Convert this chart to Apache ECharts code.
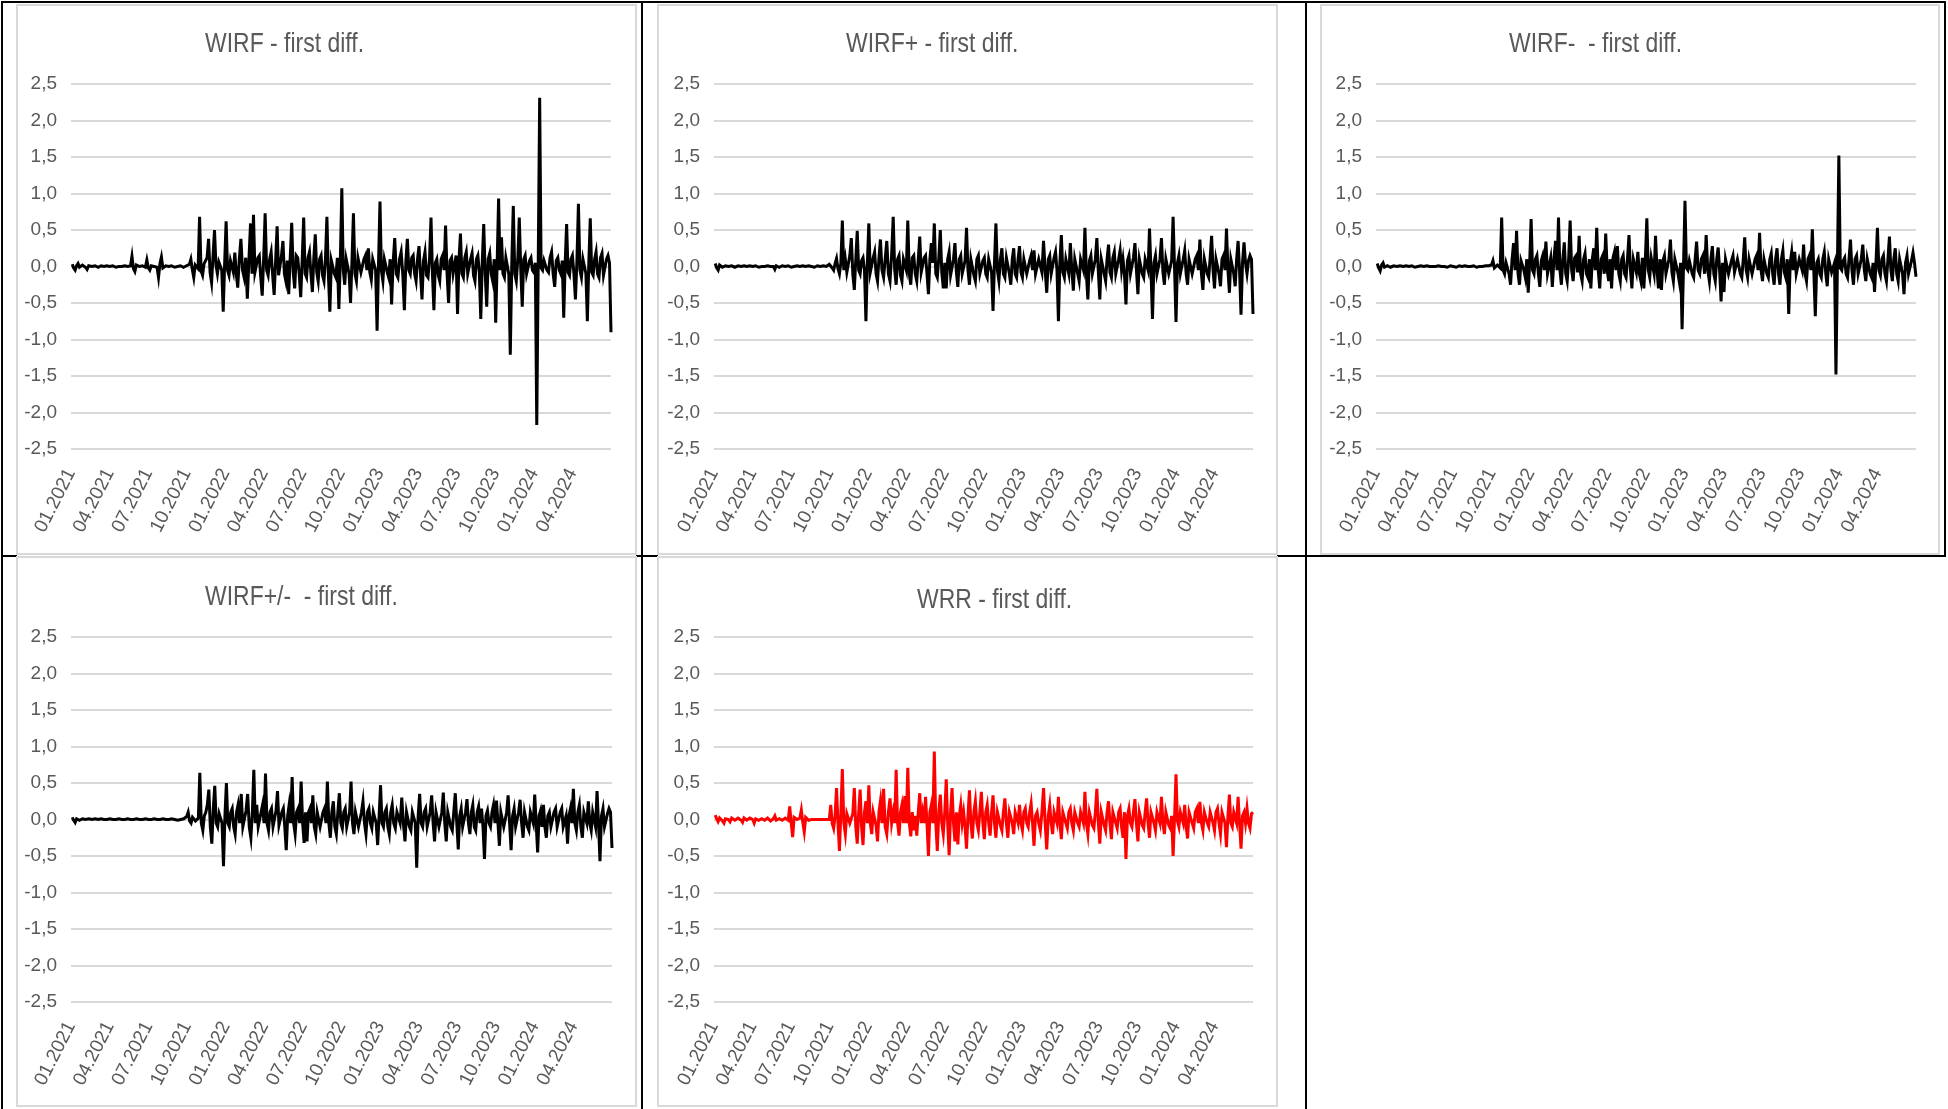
<!DOCTYPE html>
<html>
<head>
<meta charset="utf-8">
<title>First differences of WIRF indices and WRR</title>
<script src="https://cdn.jsdelivr.net/npm/echarts@6/dist/echarts.min.js"></script>
<style>
  html, body { margin: 0; padding: 0; background: #ffffff; }
  #chart { width: 1948px; height: 1109px; }
</style>
</head>
<body>
<div id="chart"></div>
<script>
// Twice-weekly observations (every 3.5 days), first one on 2021-01-04
const firstObs = Date.UTC(2021, 0, 4);
const stepDays = 3.5;

// Quarterly date labels on the horizontal axes
const quarterLabels = ['01.2021', '04.2021', '07.2021', '10.2021', '01.2022', '04.2022', '07.2022',
  '10.2022', '01.2023', '04.2023', '07.2023', '10.2023', '01.2024', '04.2024'];

const panelTitles = ['WIRF - first diff.', 'WIRF+ - first diff.', 'WIRF-  - first diff.',
  'WIRF+/-  - first diff.', 'WRR - first diff.'];

// First differences
const wirf = [
  0.03,-0.02,-0.05,0.01,0.04,-0.01,-0.03,0.02,0.02,-0.01,-0.04,0.01,0.03,0,-0.01,0.01,0.02,-0.01,-0.02,0.01,
  0.01,0,-0.01,0.01,0.01,0,0,0.01,0.01,-0.01,-0.01,0,0.01,0,0,0.01,0.01,0,-0.01,0.01,
  0.14,-0.03,-0.07,0.02,0.01,0,-0.01,0.01,0.01,-0.01,0.09,-0.02,-0.05,0.01,0.01,0,0,-0.01,-0.15,0.04,
  0.13,-0.02,-0.01,0.01,0.01,0,0,0.01,0.01,-0.01,-0.01,0,0,0.01,0.01,-0.01,-0.01,0.01,0.02,0.03,
  0.10,-0.04,-0.15,0.02,0.03,-0.03,0.68,-0.06,-0.12,0.04,0.05,0.12,0.38,-0.08,-0.22,0.15,0.50,0.02,-0.1,0.06,
  0.08,-0.05,-0.62,0.05,0.62,-0.05,-0.12,0.08,0.10,-0.08,0.19,-0.1,-0.29,0.1,0.38,-0.05,-0.15,0.12,-0.44,0.1,
  0.59,-0.1,0.71,-0.08,-0.1,0.12,0.15,-0.15,-0.40,0.1,0.73,-0.05,-0.12,0.1,0.2,-0.12,-0.39,0.08,0.55,-0.12,
  -0.1,0.15,0.35,-0.1,-0.2,0.08,-0.38,0.12,0.60,-0.08,-0.3,0.15,0.12,-0.1,-0.42,0.1,0.67,-0.1,-0.15,0.12,
  0.2,-0.1,-0.35,0.12,0.44,-0.08,-0.2,0.1,0.15,-0.12,-0.2,0.1,0.68,-0.1,-0.62,0.08,0.1,-0.1,-0.15,0.12,
  -0.58,0.1,1.07,-0.05,-0.25,0.1,0.12,-0.1,-0.5,0.08,0.73,-0.1,-0.2,0.12,0.1,-0.08,-0.1,0.1,0.15,-0.05,
  0.25,-0.08,-0.18,0.1,0.1,-0.05,-0.88,0.05,0.89,-0.06,-0.2,0.1,0.12,-0.08,-0.15,0.1,-0.52,0.05,0.39,-0.1,
  -0.15,0.1,0.2,-0.1,-0.6,0.08,0.38,-0.05,-0.1,0.12,0.15,-0.1,-0.2,0.1,0.28,-0.1,-0.45,0.08,0.2,-0.12,
  -0.15,0.1,0.67,-0.1,-0.6,0.05,0.1,-0.12,-0.2,0.1,0.15,-0.05,0.56,-0.1,-0.5,0.08,0.12,-0.1,-0.1,0.15,
  -0.65,0.1,0.45,-0.1,-0.15,0.12,0.2,-0.1,-0.12,0.1,0.18,-0.12,-0.2,0.1,0.15,-0.08,-0.72,0.05,0.58,-0.1,
  -0.55,0.1,0.18,-0.1,-0.2,0.1,-0.77,0.05,0.93,-0.05,0.4,-0.1,-0.15,0.12,0.1,-0.1,-1.21,0.05,0.83,-0.1,
  -0.2,0.1,0.67,-0.05,-0.55,0.1,0.15,-0.1,-0.1,0.08,0.12,-0.05,-0.08,0.05,-2.17,0.02,2.31,-0.02,-0.05,0.08,
  0.1,-0.05,-0.08,0.12,0.2,-0.1,-0.28,0.08,0.12,-0.05,-0.1,0.08,-0.7,0.05,0.58,-0.08,-0.12,0.1,0.15,-0.1,
  -0.45,0.08,0.86,-0.05,-0.15,0.1,0.1,-0.1,-0.75,0.05,0.66,-0.08,-0.12,0.1,0.2,-0.1,-0.15,0.12,0.18,-0.12,
  -0.12,0.1,0.15,0.05,-0.9
];

const wirfPlus = [
  0.04,-0.02,-0.05,0.02,0.03,-0.01,-0.03,0.01,0.02,0,-0.02,0.01,0.01,-0.01,-0.03,0.01,0.02,0,-0.01,0.01,
  0.01,0,-0.01,0.01,0.01,0,0,0.01,0.01,-0.01,-0.01,0,0.01,0,0,0.01,0.01,0,-0.01,0,
  -0.04,0.01,0.03,-0.01,-0.01,0.01,0.01,0,0,0.01,0.01,-0.01,-0.01,0,0,0.01,0.01,0,-0.01,0.01,
  0.01,0,0,0.01,-0.01,0,0.01,-0.01,0,0.01,0.01,0,-0.01,0.01,0.01,0,0.02,0.03,0.05,-0.02,
  -0.05,0.04,0.11,-0.03,-0.1,0.05,0.63,-0.05,0.1,-0.08,-0.1,0.15,0.39,-0.1,-0.32,0.1,0.49,-0.05,-0.1,0.08,
  0.12,-0.05,-0.75,0.05,0.59,-0.08,-0.1,0.12,0.2,-0.1,-0.2,0.12,0.37,-0.05,-0.15,0.1,0.35,-0.1,-0.2,0.15,
  0.68,-0.05,-0.25,0.1,0.15,-0.12,-0.2,0.1,0.1,-0.05,0.63,-0.1,-0.25,0.12,0.15,-0.1,-0.2,0.1,0.41,-0.08,
  -0.1,0.12,0.15,-0.1,-0.38,0.1,0.32,0.05,0.59,-0.1,-0.15,0.12,0.5,-0.08,-0.3,0.05,-0.3,0.1,0.2,-0.12,
  -0.1,0.1,0.32,-0.08,-0.28,0.1,0.15,-0.1,-0.1,0.08,0.53,-0.05,-0.25,0.1,0.1,-0.12,-0.2,0.1,0.15,-0.1,
  -0.1,0.08,0.12,-0.1,-0.15,0.1,0.1,-0.08,-0.61,0.05,0.59,-0.05,-0.2,0.1,0.25,-0.1,-0.15,0.12,0.1,-0.1,
  -0.25,0.1,0.25,-0.1,-0.15,0.1,0.28,-0.08,-0.15,0.1,0.12,-0.1,-0.1,0.08,0.15,-0.05,0.22,-0.1,-0.12,0.1,
  0.1,-0.08,0.35,-0.05,-0.36,0.1,0.15,-0.1,-0.1,0.12,0.2,-0.05,-0.75,0.05,0.43,-0.08,-0.15,0.1,0.1,-0.1,
  0.32,-0.05,-0.33,0.1,0.12,-0.1,-0.2,0.1,0.1,-0.05,0.53,-0.1,-0.45,0.08,0.15,-0.1,-0.1,0.1,0.39,-0.08,
  -0.45,0.1,0.12,-0.1,-0.2,0.1,0.3,-0.08,-0.15,0.12,0.2,-0.1,-0.12,0.1,0.22,-0.05,0.1,-0.1,-0.52,0.08,
  0.15,-0.1,-0.1,0.12,0.32,-0.05,-0.38,0.1,0.12,-0.1,-0.15,0.1,0.1,-0.05,0.52,-0.05,-0.72,0.05,0.15,-0.1,
  -0.1,0.1,0.39,-0.08,-0.25,0.1,0.1,-0.1,-0.12,0.08,0.68,-0.02,-0.76,0.05,0.15,-0.1,-0.1,0.1,0.22,-0.1,
  -0.25,0.1,0.12,-0.1,-0.1,0.1,0.15,-0.05,0.37,-0.1,-0.32,0.1,0.1,-0.1,-0.15,0.12,0.42,-0.05,-0.3,0.1,
  0.12,-0.1,-0.27,0.1,0.15,-0.05,0.52,-0.05,-0.36,0.1,0.1,-0.1,-0.27,0.1,0.35,-0.05,-0.66,0.05,0.33,0.05,
  -0.1,0.08,0.15,0.1,-0.65
];

const wirfMinus = [
  0.04,-0.02,-0.06,0.02,0.05,-0.01,-0.03,0.01,0.02,-0.01,-0.02,0.01,0.03,0,-0.01,0.01,0.01,0,-0.01,0.01,
  0.01,0,0,0.01,0.01,-0.01,-0.01,0,0,0.01,0.01,0,-0.01,0.01,0.02,0,-0.01,0,0.01,0,
  0,0.01,-0.01,0,0.01,0,0.02,-0.01,-0.01,0.01,0,0,0.01,-0.01,-0.01,0.01,0.01,0,0,0.01,
  -0.01,0,0.01,0,0,0.01,0.01,-0.01,-0.01,0,0.01,0,0,0.01,-0.01,0.01,0.03,0.02,0.08,-0.02,
  -0.03,0.02,0.02,-0.02,0.67,-0.05,-0.1,0.05,0.05,-0.1,-0.25,0.1,0.32,-0.05,0.49,-0.1,-0.25,0.08,0.1,-0.05,
  -0.15,0.1,-0.36,0.05,0.65,-0.05,-0.1,0.1,0.15,-0.1,-0.28,0.08,0.15,-0.05,0.34,-0.1,-0.1,0.12,-0.28,0.1,
  0.35,-0.05,0.67,-0.05,-0.25,0.1,0.33,-0.1,-0.2,0.1,0.63,-0.05,-0.2,0.12,0.15,-0.08,0.42,-0.1,-0.2,0.1,
  0.18,-0.1,-0.15,0.1,-0.3,0.1,0.25,-0.05,0.53,-0.05,-0.3,0.1,0.15,-0.1,0.45,-0.05,-0.2,0.1,-0.3,0.12,
  0.2,-0.05,0.28,-0.1,-0.2,0.1,0.15,-0.1,-0.15,0.12,0.43,-0.05,-0.3,0.1,0.1,-0.08,0.2,-0.1,-0.2,0.12,
  -0.3,0.1,0.66,-0.05,-0.15,0.12,0.1,-0.1,0.42,-0.05,-0.3,0.1,-0.32,0.08,0.15,-0.1,-0.1,0.1,0.37,-0.08,
  -0.2,0.1,0.1,-0.08,-0.2,0.05,-0.86,0.02,0.9,-0.02,-0.05,0.08,0.1,-0.1,-0.15,0.1,0.34,-0.05,-0.1,0.1,
  0.15,-0.1,0.43,-0.05,-0.2,0.1,0.28,-0.1,-0.2,0.1,0.26,-0.05,-0.48,0.05,-0.35,0.1,0.12,-0.1,-0.1,0.08,
  0.15,-0.08,-0.1,0.1,0.12,-0.1,-0.15,0.1,0.4,-0.05,-0.15,0.1,0.1,-0.1,-0.12,0.1,0.15,-0.05,0.46,-0.05,
  -0.2,0.1,0.1,-0.1,-0.15,0.1,0.18,-0.1,-0.25,0.1,0.25,-0.1,-0.25,0.1,0.22,-0.08,-0.15,0.1,-0.65,0.05,
  0.2,-0.05,0.2,-0.1,-0.12,0.1,0.1,-0.05,0.3,-0.1,-0.2,0.1,0.15,-0.05,0.51,-0.05,-0.68,0.05,0.1,-0.1,
  -0.15,0.1,0.2,-0.1,-0.27,0.1,0.1,-0.08,-0.1,0.05,-1.48,0.02,1.52,-0.02,-0.05,0.08,0.12,-0.1,-0.15,0.1,
  0.37,-0.05,-0.25,0.1,0.15,-0.1,-0.12,0.1,0.3,-0.05,-0.2,0.1,0.1,-0.1,-0.15,0.05,-0.35,0.05,0.53,-0.05,
  -0.12,0.1,0.15,-0.1,-0.2,0.1,0.41,-0.05,-0.2,0.1,0.25,-0.1,-0.2,0.1,0.1,-0.1,-0.38,0.05,0.15,-0.1,
  -0.1,0.08,0.19,0.05,-0.14
];

const wirfPlusMinus = [
  0.03,-0.01,-0.04,0.01,0.03,-0.01,-0.02,0.01,0.01,0,-0.01,0.01,0.01,0,-0.01,0.01,0.01,0,0,0.01,
  0.01,0,-0.01,0,0,0.01,0.01,0,-0.01,0,0,0.01,0.01,0,-0.01,0,0,0.01,0.01,0,
  -0.01,0,0,0.01,0.01,0,-0.01,0,0,0.01,0.01,0,-0.01,0,0,0.01,0.01,0,-0.01,0,
  0,0.01,0.01,0,-0.01,0,0,0.01,0.01,0,0,-0.01,-0.01,0,0.01,0.01,0.03,0.04,0.1,-0.02,
  -0.05,0.03,0.05,-0.02,-0.03,0.02,0.64,-0.05,-0.15,0.05,0.1,0.2,0.41,-0.1,-0.33,0.15,0.46,-0.05,-0.1,0.08,
  0.1,-0.05,-0.64,0.05,0.5,-0.05,-0.1,0.1,0.15,-0.1,-0.2,0.1,0.2,-0.05,0.35,-0.1,-0.1,0.12,0.35,-0.1,
  -0.25,0.1,0.68,-0.05,0.2,-0.1,-0.1,0.1,0.2,-0.05,0.63,-0.05,-0.15,0.1,0.15,-0.1,-0.1,0.12,0.39,-0.08,
  -0.1,0.1,0.15,-0.1,-0.42,0.05,0.2,-0.05,0.58,-0.05,-0.2,0.1,0.15,-0.05,0.52,-0.05,-0.32,0.1,-0.3,0.1,
  0.15,-0.05,0.33,-0.1,-0.2,0.1,0.12,-0.1,-0.1,0.1,0.15,-0.05,0.52,-0.05,-0.25,0.1,0.25,-0.1,-0.2,0.1,
  0.36,-0.05,-0.12,0.1,0.15,-0.1,-0.1,0.1,0.52,-0.05,-0.2,0.1,0.1,-0.1,-0.12,0.1,0.25,-0.05,-0.2,0.1,
  0.15,-0.05,-0.12,0.1,0.1,-0.05,-0.35,0.05,0.47,-0.05,-0.1,0.1,0.15,-0.1,-0.2,0.1,0.2,-0.05,-0.12,0.1,
  0.12,-0.05,0.3,-0.05,-0.3,0.1,0.1,-0.1,-0.15,0.1,0.12,-0.05,-0.66,0.05,0.35,-0.05,-0.1,0.1,0.15,-0.1,
  -0.12,0.1,0.33,-0.05,-0.3,0.1,0.1,-0.1,-0.12,0.1,0.37,-0.05,-0.3,0.1,0.12,-0.1,-0.15,0.1,0.36,-0.05,
  -0.41,0.05,0.15,-0.1,-0.12,0.1,0.28,-0.05,-0.2,0.1,0.2,-0.1,-0.15,0.1,0.18,-0.05,0.15,-0.1,-0.54,0.05,
  0.12,-0.05,-0.1,0.1,0.2,-0.05,0.26,-0.05,-0.36,0.1,0.1,-0.1,-0.12,0.1,0.33,-0.05,-0.42,0.05,0.15,-0.1,
  -0.1,0.1,0.27,-0.05,-0.25,0.1,0.1,-0.1,-0.15,0.1,0.12,-0.05,0.34,-0.05,-0.45,0.05,0.12,-0.1,0.2,-0.1,
  -0.25,0.05,0.1,-0.1,-0.12,0.1,0.15,-0.1,-0.1,0.1,0.15,-0.1,-0.12,0.05,-0.33,0.05,0.15,-0.05,0.42,-0.05,
  -0.15,0.1,0.2,-0.1,-0.25,0.1,0.12,-0.05,0.25,-0.05,-0.15,0.1,0.1,-0.1,0.39,-0.05,-0.57,0.05,0.15,-0.1,
  -0.1,0.08,0.15,0.1,-0.39
];

const wrr = [
  0.06,0.01,-0.03,0.02,0.04,-0.02,-0.05,0.01,0.02,0,-0.03,0.02,0.03,-0.01,-0.02,0.02,0.01,-0.01,-0.04,0.02,
  0.03,-0.01,-0.01,0.02,0.04,0,-0.05,0.01,0.02,-0.01,-0.02,0.01,0.03,-0.01,-0.01,0.02,0.02,-0.02,-0.03,0.01,
  0.05,-0.01,-0.02,0.01,0.01,-0.01,-0.03,0.02,0.02,-0.01,0.18,-0.05,-0.24,0.03,0.01,0,-0.02,0.02,0.13,-0.04,
  -0.17,0.03,0.02,-0.01,-0.01,0,0,0,0,0,0,0,0,0,0,0,0,0,0.2,-0.05,
  -0.12,0.05,0.43,-0.05,-0.43,0.1,0.69,-0.05,-0.2,0.08,0.1,-0.05,-0.05,0.08,0.43,-0.1,-0.33,0.1,0.41,-0.1,
  -0.35,0.1,0.25,-0.05,0.47,-0.05,-0.2,0.1,0.1,-0.08,-0.3,0.1,0.25,-0.05,0.42,-0.1,-0.2,0.1,0.29,-0.05,
  0.1,-0.05,0.68,-0.05,-0.22,0.1,0.2,-0.05,0.32,-0.05,0.71,-0.05,-0.23,0.1,-0.15,0.05,-0.22,0.1,0.36,-0.05,
  0.1,-0.05,0.31,-0.05,-0.5,0.1,0.2,-0.05,0.93,-0.05,-0.43,0.1,0.34,-0.05,-0.2,0.1,0.55,-0.05,-0.49,0.1,
  0.43,-0.05,-0.3,0.1,-0.34,0.05,0.2,-0.05,0.1,-0.1,-0.4,0.05,0.4,-0.05,-0.26,0.1,0.25,-0.05,-0.15,0.1,
  0.38,-0.05,-0.27,0.1,0.2,-0.05,-0.22,0.1,0.33,-0.05,-0.25,0.1,0.1,-0.08,-0.15,0.1,0.29,-0.05,-0.25,0.1,
  0.1,-0.05,-0.2,0.1,0.12,-0.05,0.2,-0.05,-0.15,0.1,0.15,-0.05,-0.1,0.1,0.22,-0.05,-0.36,0.05,0.1,-0.05,
  -0.15,0.1,0.43,-0.05,-0.41,0.05,0.2,-0.05,-0.2,0.1,0.1,-0.05,0.31,-0.05,-0.27,0.1,0.1,-0.05,-0.12,0.1,
  0.15,-0.05,-0.15,0.1,0.1,-0.05,-0.1,0.1,0.12,-0.05,0.38,-0.05,-0.2,0.1,0.1,-0.08,-0.12,0.1,0.42,-0.05,
  -0.33,0.1,0.1,-0.08,-0.15,0.1,0.25,-0.05,-0.27,0.1,0.1,-0.05,-0.12,0.1,0.15,-0.1,-0.25,0.1,-0.54,0.05,
  0.15,-0.05,-0.1,0.1,0.28,-0.05,-0.3,0.1,0.1,-0.08,-0.12,0.1,0.29,-0.05,-0.25,0.1,0.1,-0.05,-0.15,0.1,
  0.12,-0.05,0.31,-0.05,-0.2,0.1,0.1,-0.08,-0.12,0.05,-0.5,0.02,0.62,-0.02,-0.1,0.1,0.12,-0.05,0.2,-0.1,
  -0.26,0.1,0.1,-0.05,-0.12,0.1,0.15,-0.05,0.24,-0.05,-0.15,0.1,0.1,-0.05,-0.1,0.1,0.12,-0.05,-0.15,0.1,
  0.15,-0.05,-0.2,0.1,0.1,-0.05,-0.38,0.05,0.34,-0.05,-0.1,0.1,0.12,-0.05,0.31,-0.05,-0.4,0.05,0.1,-0.05,
  0.15,-0.05,-0.12,0.08,0.1
];

const seriesValues = [wirf, wirfPlus, wirfMinus, wirfPlusMinus, wrr];
const seriesColors = ['#000000', '#000000', '#000000', '#000000', '#ff0000'];

// Position of a timestamp on the month scale (0 = start of January 2021)
function monthPosition(t) {
  const d = new Date(t);
  const y = d.getUTCFullYear(), m = d.getUTCMonth();
  const daysInMonth = new Date(Date.UTC(y, m + 1, 0)).getUTCDate();
  return (y - 2021) * 12 + m + (d.getUTCDate() - 1 + d.getUTCHours() / 24) / daysInMonth;
}
const DAY = 86400000;

// Layout of the five panels (pixels); title position is the left edge / vertical middle
const layout = [
  { grid: { left: 71,   top: 84,  width: 540, height: 365 }, box: [17, 5, 619, 549],    titleX: 205,  titleY: 44 },
  { grid: { left: 714,  top: 84,  width: 539, height: 365 }, box: [658, 5, 619, 549],   titleX: 846,  titleY: 44 },
  { grid: { left: 1376, top: 84,  width: 540, height: 365 }, box: [1321, 5, 618, 549],  titleX: 1509, titleY: 44 },
  { grid: { left: 71,   top: 637, width: 541, height: 365 }, box: [17, 557, 619, 549],  titleX: 205,  titleY: 597 },
  { grid: { left: 714,  top: 637, width: 539, height: 365 }, box: [658, 557, 619, 549], titleX: 917,  titleY: 600 }
];

const textGrey = '#595959';
const labelFont = '"Liberation Sans", Arial, sans-serif';

const option = {
  backgroundColor: '#ffffff',
  animation: false,
  grid: layout.map(p => Object.assign({ containLabel: false }, p.grid)),
  xAxis: layout.map((p, k) => ({
    type: 'value',
    gridIndex: k,
    min: 0,
    max: 42,
    interval: 3,
    axisLine: { show: false },
    axisTick: { show: false },
    splitLine: { show: false },
    axisLabel: {
      rotate: 63,
      margin: 21,
      fontFamily: labelFont,
      fontSize: 19,
      color: textGrey,
      showMaxLabel: false,
      formatter: v => (v % 3 === 0 && v / 3 < quarterLabels.length) ? quarterLabels[v / 3] : ''
    }
  })),
  yAxis: layout.map((p, k) => ({
    type: 'value',
    gridIndex: k,
    min: -2.5,
    max: 2.5,
    interval: 0.5,
    axisLine: { show: false },
    axisTick: { show: false },
    splitLine: { lineStyle: { color: '#d9d9d9', width: 2 } },
    axisLabel: {
      margin: 14,
      fontFamily: labelFont,
      fontSize: 19,
      color: textGrey,
      formatter: v => v.toFixed(1).replace('.', ',')
    }
  })),
  series: seriesValues.map((vals, k) => ({
    type: 'line',
    xAxisIndex: k,
    yAxisIndex: k,
    showSymbol: false,
    symbol: 'none',
    sampling: null,
    lineStyle: { color: seriesColors[k], width: 3, join: 'miter' },
    data: vals.map((v, i) => [monthPosition(firstObs + i * stepDays * DAY), v])
  })),
  graphic: []
};

// Black table rules (drawn first; the panels sit on top of them)
const rules = [
  [1, 2, 1946, 2],
  [1, 556, 17, 556], [636, 556, 658, 556], [1277, 556, 1946, 556],
  [2, 1, 2, 1109], [642, 1, 642, 1109], [1306, 1, 1306, 1109], [1945, 1, 1945, 557]
];
rules.forEach(r => {
  option.graphic.push({
    type: 'line', silent: true, z: -10,
    shape: { x1: r[0], y1: r[1], x2: r[2], y2: r[3] },
    style: { stroke: '#000000', lineWidth: 2 }
  });
});

// Chart area frames
layout.forEach(p => {
  option.graphic.push({
    type: 'rect', silent: true, z: -5,
    shape: { x: p.box[0], y: p.box[1], width: p.box[2], height: p.box[3] },
    style: { fill: '#ffffff', stroke: '#d9d9d9', lineWidth: 2 }
  });
});

// Panel titles in a condensed face
layout.forEach((p, k) => {
  option.graphic.push({
    type: 'text', silent: true, z: 5,
    x: p.titleX, y: p.titleY, scaleX: 0.82,
    style: {
      text: panelTitles[k],
      font: '28px "Liberation Sans", Arial, sans-serif',
      fill: textGrey,
      align: 'left',
      verticalAlign: 'middle'
    }
  });
});

const chart = echarts.init(document.getElementById('chart'), null, { renderer: 'canvas' });
chart.setOption(option);
</script>
</body>
</html>
